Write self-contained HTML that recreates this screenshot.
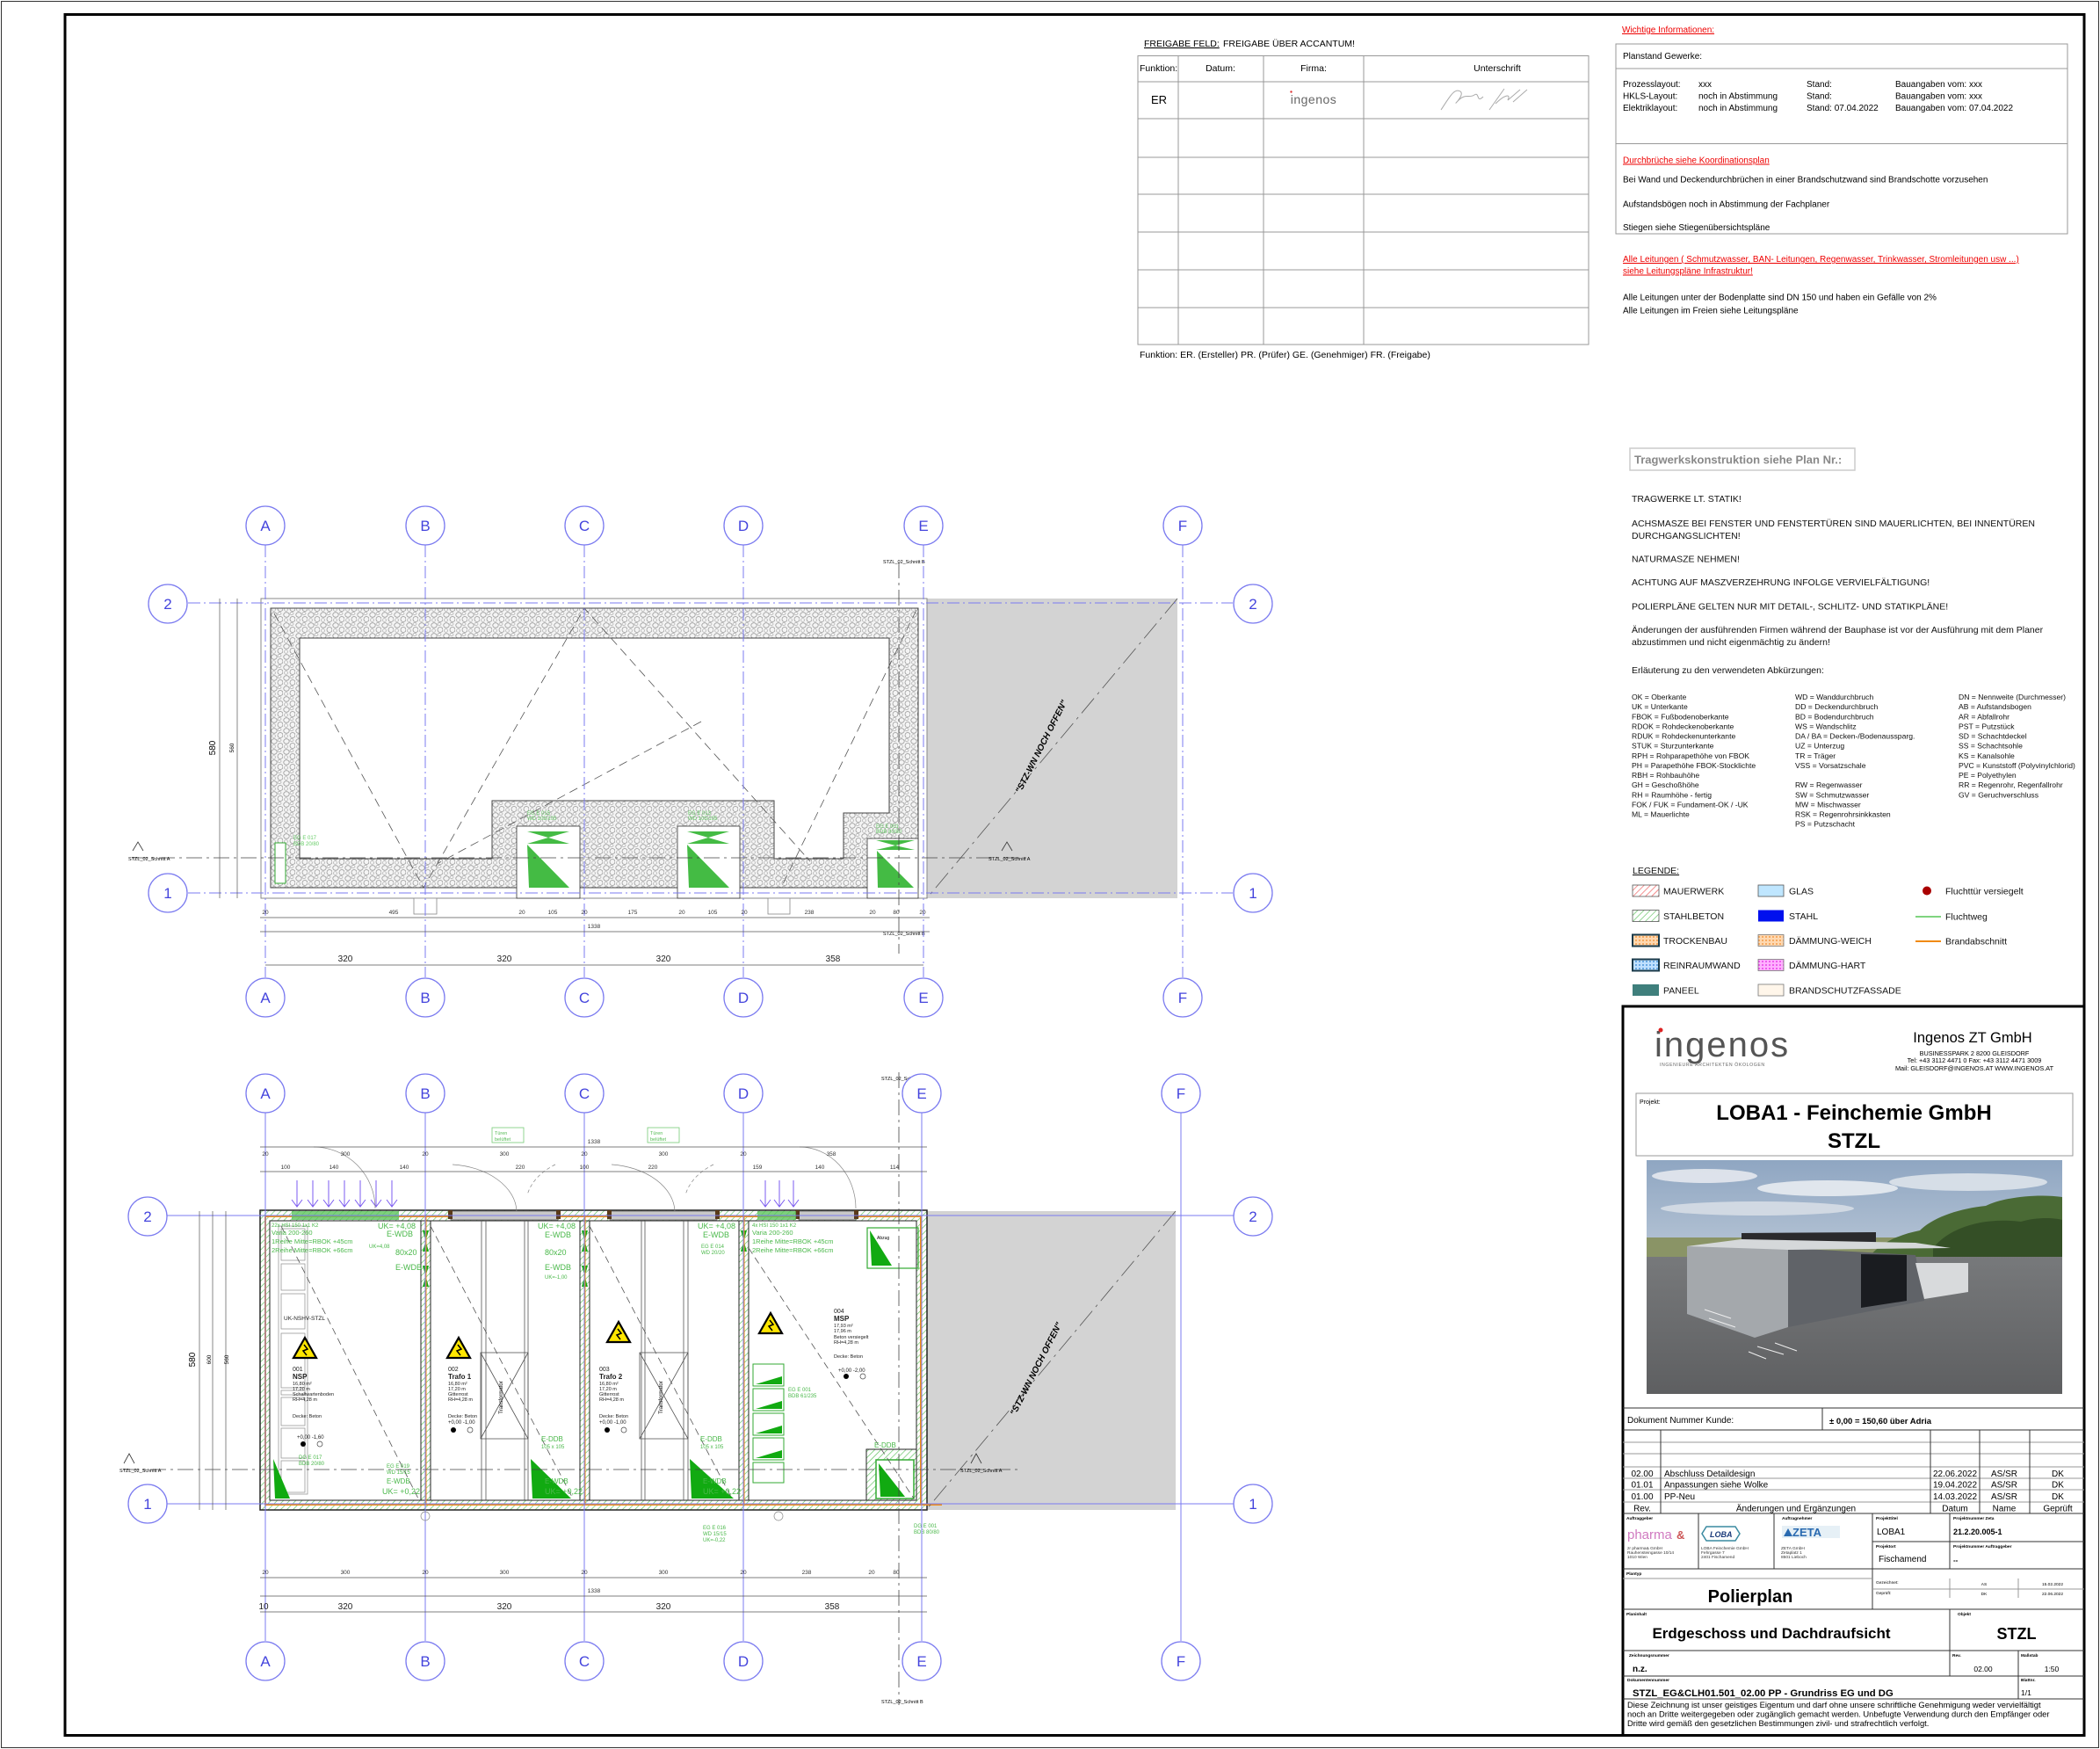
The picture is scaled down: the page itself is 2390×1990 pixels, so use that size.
<!DOCTYPE html>
<html><head><meta charset="utf-8">
<style>
html,body{margin:0;padding:0;background:#fff;}
svg{display:block;font-family:"Liberation Sans",sans-serif;}
</style></head>
<body>
<svg width="2390" height="1990" viewBox="0 0 2390 1990" xmlns="http://www.w3.org/2000/svg">
<defs>
<pattern id="mas" width="14" height="12" patternUnits="userSpaceOnUse">
<rect width="14" height="12" fill="#f4f4f4"/>
<ellipse cx="4" cy="3.5" rx="3.2" ry="2.8" fill="none" stroke="#9a9a9a" stroke-width="0.8"/>
<ellipse cx="11" cy="8.5" rx="3" ry="3" fill="none" stroke="#9a9a9a" stroke-width="0.8"/>
<ellipse cx="3.5" cy="9.5" rx="2" ry="1.8" fill="none" stroke="#aaa" stroke-width="0.7"/>
<ellipse cx="10" cy="2" rx="2" ry="1.6" fill="none" stroke="#aaa" stroke-width="0.7"/>
</pattern>
<pattern id="hatchG" width="5" height="5" patternUnits="userSpaceOnUse" patternTransform="rotate(45)">
<rect width="5" height="5" fill="#fff"/><line x1="0" y1="0" x2="0" y2="5" stroke="#5cbf5c" stroke-width="1.3"/>
</pattern>
<pattern id="hatchR" width="5" height="5" patternUnits="userSpaceOnUse" patternTransform="rotate(45)">
<rect width="5" height="5" fill="#fff"/><line x1="0" y1="0" x2="0" y2="5" stroke="#e55" stroke-width="1.3"/>
</pattern>
<pattern id="dotO" width="4" height="4" patternUnits="userSpaceOnUse">
<rect width="4" height="4" fill="#ffd8b0"/><circle cx="2" cy="2" r="0.9" fill="#f08a2a"/>
</pattern>
<pattern id="dotM" width="4" height="4" patternUnits="userSpaceOnUse">
<rect width="4" height="4" fill="#ffb0ff"/><circle cx="2" cy="2" r="0.9" fill="#e020e0"/>
</pattern>
<pattern id="dotB" width="4" height="4" patternUnits="userSpaceOnUse">
<rect width="4" height="4" fill="#bfe0ff"/><circle cx="2" cy="2" r="0.9" fill="#2a7fd0"/>
</pattern>
<linearGradient id="sky" x1="0" y1="0" x2="0" y2="1">
<stop offset="0" stop-color="#8fa6c2"/><stop offset="0.6" stop-color="#c9d3de"/><stop offset="1" stop-color="#e2e6ea"/>
</linearGradient>
<linearGradient id="ground" x1="0" y1="0" x2="0" y2="1">
<stop offset="0" stop-color="#77797b"/><stop offset="1" stop-color="#5e5f61"/>
</linearGradient>
<g id="warn"><path d="M0,-14 L13,9 L-13,9 Z" fill="#ffe600" stroke="#000" stroke-width="2.2"/><path d="M-1,-6 L3,-1 L-2,1 L2,6" fill="none" stroke="#000" stroke-width="1.5"/></g>
</defs>

<!-- frames -->
<rect x="1.5" y="1.5" width="2387" height="1987" fill="none" stroke="#333" stroke-width="1"/>
<rect x="74" y="16.5" width="2298" height="1958" fill="none" stroke="#000" stroke-width="3"/>

<!-- ============ FREIGABE TABLE ============ -->
<g font-size="10.5" fill="#000">
<text x="1302" y="53" text-decoration="underline">FREIGABE FELD:</text>
<text x="1392" y="53">FREIGABE ÜBER ACCANTUM!</text>
<g stroke="#999" stroke-width="1" fill="none">
<rect x="1295" y="63.5" width="513" height="328.5"/>
<line x1="1295" y1="93" x2="1808" y2="93"/>
<line x1="1295" y1="135" x2="1808" y2="135"/>
<line x1="1295" y1="179" x2="1808" y2="179"/>
<line x1="1295" y1="221" x2="1808" y2="221"/>
<line x1="1295" y1="264" x2="1808" y2="264"/>
<line x1="1295" y1="307" x2="1808" y2="307"/>
<line x1="1295" y1="350" x2="1808" y2="350"/>
<line x1="1341" y1="63.5" x2="1341" y2="392"/>
<line x1="1438" y1="63.5" x2="1438" y2="392"/>
<line x1="1552" y1="63.5" x2="1552" y2="392"/>
</g>
<text x="1297" y="81">Funktion:</text>
<text x="1389" y="81" text-anchor="middle">Datum:</text>
<text x="1495" y="81" text-anchor="middle">Firma:</text>
<text x="1704" y="81" text-anchor="middle">Unterschrift</text>
<text x="1310" y="118" font-size="13">ER</text>
<text x="1495" y="118" font-size="14" fill="#666" text-anchor="middle" letter-spacing="0.5">ingenos</text>
<circle cx="1469.5" cy="104.5" r="1.2" fill="#d33"/>
<path d="M1640,125 C1650,110 1655,100 1662,104 C1668,108 1650,124 1660,114 C1668,106 1672,112 1678,108 C1684,104 1680,118 1688,110 M1695,125 L1712,101 M1702,118 C1712,108 1720,106 1716,114 L1730,102 M1722,116 L1738,102" fill="none" stroke="#aaa" stroke-width="1"/>
<text x="1297" y="407">Funktion: ER. (Ersteller) PR. (Prüfer) GE. (Genehmiger) FR. (Freigabe)</text>
</g>

<!-- ============ WICHTIGE INFO ============ -->
<g font-size="10" fill="#000">
<text x="1846" y="37" fill="#e00" text-decoration="underline">Wichtige Informationen:</text>
<g stroke="#999" fill="none"><rect x="1839" y="50" width="514" height="216"/><line x1="1839" y1="78" x2="2353" y2="78"/><line x1="1839" y1="163.5" x2="2353" y2="163.5"/></g>
<text x="1847" y="67">Planstand Gewerke:</text>
<text x="1847" y="99">Prozesslayout:</text><text x="1933" y="99">xxx</text><text x="2056" y="99">Stand:</text><text x="2157" y="99">Bauangaben vom: xxx</text>
<text x="1847" y="112.5">HKLS-Layout:</text><text x="1933" y="112.5">noch in Abstimmung</text><text x="2056" y="112.5">Stand:</text><text x="2157" y="112.5">Bauangaben vom: xxx</text>
<text x="1847" y="126">Elektriklayout:</text><text x="1933" y="126">noch in Abstimmung</text><text x="2056" y="126">Stand: 07.04.2022</text><text x="2157" y="126">Bauangaben vom: 07.04.2022</text>
<text x="1847" y="185.5" fill="#e00" text-decoration="underline">Durchbrüche siehe Koordinationsplan</text>
<text x="1847" y="207.5">Bei Wand und Deckendurchbrüchen in einer Brandschutzwand sind Brandschotte vorzusehen</text>
<text x="1847" y="235.5">Aufstandsbögen noch in Abstimmung der Fachplaner</text>
<text x="1847" y="262">Stiegen siehe Stiegenübersichtspläne</text>
<text x="1847" y="298" fill="#e00" text-decoration="underline">Alle Leitungen ( Schmutzwasser, BAN- Leitungen, Regenwasser, Trinkwasser, Stromleitungen usw ...)</text>
<text x="1847" y="311.5" fill="#e00" text-decoration="underline">siehe Leitungspläne Infrastruktur!</text>
<text x="1847" y="341.5">Alle Leitungen unter der Bodenplatte sind DN 150 und haben ein Gefälle von 2%</text>
<text x="1847" y="356.5">Alle Leitungen im Freien siehe Leitungspläne</text>
</g>

<!-- ============ TRAGWERK NOTES ============ -->
<rect x="1855" y="510" width="256" height="25" fill="none" stroke="#ccc" stroke-width="1.5"/>
<text x="1860" y="527.5" font-size="13" font-weight="bold" fill="#888">Tragwerkskonstruktion siehe Plan Nr.:</text>
<g font-size="10.5" fill="#111">
<text x="1857" y="571">TRAGWERKE LT. STATIK!</text>
<text x="1857" y="599">ACHSMASZE BEI FENSTER UND FENSTERTÜREN SIND MAUERLICHTEN, BEI INNENTÜREN</text>
<text x="1857" y="613">DURCHGANGSLICHTEN!</text>
<text x="1857" y="639.5">NATURMASZE NEHMEN!</text>
<text x="1857" y="666">ACHTUNG AUF MASZVERZEHRUNG INFOLGE VERVIELFÄLTIGUNG!</text>
<text x="1857" y="693.5">POLIERPLÄNE GELTEN NUR MIT DETAIL-, SCHLITZ- UND STATIKPLÄNE!</text>
<text x="1857" y="720">Änderungen der ausführenden Firmen während der Bauphase ist vor der Ausführung mit dem Planer</text>
<text x="1857" y="734">abzustimmen und nicht eigenmächtig zu ändern!</text>
<text x="1857" y="766">Erläuterung zu den verwendeten Abkürzungen:</text>
</g>
<g font-size="8.6" fill="#111">
<text x="1857" y="796">OK = Oberkante</text><text x="1857" y="807">UK = Unterkante</text><text x="1857" y="818.5">FBOK = Fußbodenoberkante</text><text x="1857" y="829.5">RDOK = Rohdeckenoberkante</text><text x="1857" y="840.5">RDUK = Rohdeckenunterkante</text><text x="1857" y="851.5">STUK = Sturzunterkante</text><text x="1857" y="863">RPH = Rohparapethöhe von FBOK</text><text x="1857" y="874">PH = Parapethöhe FBOK-Stocklichte</text><text x="1857" y="885">RBH = Rohbauhöhe</text><text x="1857" y="896">GH = Geschoßhöhe</text><text x="1857" y="907.5">RH = Raumhöhe - fertig</text><text x="1857" y="918.5">FOK / FUK = Fundament-OK / -UK</text><text x="1857" y="929.5">ML = Mauerlichte</text>
<text x="2043" y="796">WD = Wanddurchbruch</text><text x="2043" y="807">DD = Deckendurchbruch</text><text x="2043" y="818.5">BD = Bodendurchbruch</text><text x="2043" y="829.5">WS = Wandschlitz</text><text x="2043" y="840.5">DA / BA = Decken-/Bodenaussparg.</text><text x="2043" y="851.5">UZ = Unterzug</text><text x="2043" y="863">TR = Träger</text><text x="2043" y="874">VSS = Vorsatzschale</text><text x="2043" y="896">RW = Regenwasser</text><text x="2043" y="907.5">SW = Schmutzwasser</text><text x="2043" y="918.5">MW = Mischwasser</text><text x="2043" y="929.5">RSK = Regenrohrsinkkasten</text><text x="2043" y="940.5">PS = Putzschacht</text>
<text x="2229" y="796">DN = Nennweite (Durchmesser)</text><text x="2229" y="807">AB = Aufstandsbogen</text><text x="2229" y="818.5">AR = Abfallrohr</text><text x="2229" y="829.5">PST = Putzstück</text><text x="2229" y="840.5">SD = Schachtdeckel</text><text x="2229" y="851.5">SS = Schachtsohle</text><text x="2229" y="863">KS = Kanalsohle</text><text x="2229" y="874">PVC = Kunststoff (Polyvinylchlorid)</text><text x="2229" y="885">PE = Polyethylen</text><text x="2229" y="896">RR = Regenrohr, Regenfallrohr</text><text x="2229" y="907.5">GV = Geruchverschluss</text>
</g>
<!-- LEGENDE -->
<g font-size="10.5" fill="#111">
<text x="1858" y="994" text-decoration="underline">LEGENDE:</text>
<rect x="1858" y="1007" width="30" height="13" fill="url(#hatchR)" stroke="#555" stroke-width="0.8"/><text x="1893" y="1017.5">MAUERWERK</text>
<rect x="1858" y="1035.5" width="30" height="13" fill="url(#hatchG)" stroke="#555" stroke-width="0.8"/><text x="1893" y="1046">STAHLBETON</text>
<rect x="1858" y="1063.5" width="30" height="13" fill="url(#dotO)" stroke="#1a3a4a" stroke-width="2"/><text x="1893" y="1074">TROCKENBAU</text>
<rect x="1858" y="1091.5" width="30" height="13" fill="url(#dotB)" stroke="#1a3a4a" stroke-width="2"/><text x="1893" y="1102">REINRAUMWAND</text>
<rect x="1858" y="1120" width="30" height="13" fill="#3f7f7c"/><text x="1893" y="1130.5">PANEEL</text>
<rect x="2001" y="1007" width="29" height="13" fill="#bfe6ff" stroke="#555" stroke-width="0.8"/><text x="2036" y="1017.5">GLAS</text>
<rect x="2001" y="1035.5" width="29" height="13" fill="#0010ee"/><text x="2036" y="1046">STAHL</text>
<rect x="2001" y="1063.5" width="29" height="13" fill="url(#dotO)" stroke="#777" stroke-width="0.8"/><text x="2036" y="1074">DÄMMUNG-WEICH</text>
<rect x="2001" y="1091.5" width="29" height="13" fill="url(#dotM)" stroke="#777" stroke-width="0.8"/><text x="2036" y="1102">DÄMMUNG-HART</text>
<rect x="2001" y="1120" width="29" height="13" fill="#fff6ea" stroke="#777" stroke-width="0.8"/><text x="2036" y="1130.5">BRANDSCHUTZFASSADE</text>
<circle cx="2193" cy="1013.5" r="5" fill="#a00"/><text x="2214" y="1017.5">Fluchttür versiegelt</text>
<line x1="2180" y1="1043" x2="2209" y2="1043" stroke="#33bb33" stroke-width="1.2"/><text x="2214" y="1046.5">Fluchtweg</text>
<line x1="2180" y1="1071" x2="2209" y2="1071" stroke="#f08a10" stroke-width="2"/><text x="2214" y="1074.5">Brandabschnitt</text>
</g>

<!-- ============ TITLE BLOCK ============ -->
<path d="M1847,1975 L1847,1145 L2372,1145" fill="none" stroke="#000" stroke-width="3"/>
<text x="1883" y="1202" font-size="40" fill="#555" letter-spacing="2">ingenos</text>
<circle cx="1890" cy="1172" r="2.5" fill="#d22"/>
<text x="1889" y="1213" font-size="5.2" fill="#666" letter-spacing="0.6">INGENIEURE  ARCHITEKTEN  ÖKOLOGEN</text>
<text x="2245" y="1186" font-size="16.5" text-anchor="middle">Ingenos ZT GmbH</text>
<g font-size="7.3" text-anchor="middle"><text x="2247" y="1201">BUSINESSPARK 2    8200 GLEISDORF</text><text x="2247" y="1209">Tel: +43 3112 4471 0   Fax: +43 3112 4471 3009</text><text x="2247" y="1218">Mail: GLEISDORF@INGENOS.AT   WWW.INGENOS.AT</text></g>
<rect x="1862" y="1244" width="497" height="71" fill="none" stroke="#999"/>
<text x="1866" y="1256" font-size="7">Projekt:</text>
<text x="2110" y="1274" font-size="24" font-weight="bold" text-anchor="middle">LOBA1 - Feinchemie GmbH</text>
<text x="2110" y="1306" font-size="24" font-weight="bold" text-anchor="middle">STZL</text>
<!-- photo -->
<rect x="1874" y="1320" width="473" height="266" fill="url(#sky)"/>
<ellipse cx="1940" cy="1338" rx="60" ry="8" fill="#e4e8ee" opacity="0.9"/>
<ellipse cx="2080" cy="1352" rx="80" ry="9" fill="#e8ecf1" opacity="0.9"/>
<ellipse cx="2240" cy="1345" rx="90" ry="10" fill="#dde3ea" opacity="0.9"/>
<ellipse cx="2000" cy="1375" rx="110" ry="8" fill="#d6dde5" opacity="0.9"/>
<rect x="1874" y="1408" width="473" height="22" fill="#8a9466"/>
<path d="M2120,1440 C2135,1415 2160,1405 2185,1400 C2200,1385 2230,1375 2260,1372 C2280,1362 2320,1358 2347,1362 L2347,1460 L2120,1460 Z" fill="#4a6a35"/>
<path d="M2200,1420 C2220,1395 2260,1385 2300,1390 C2320,1384 2340,1386 2347,1388 L2347,1450 L2200,1450 Z" fill="#344f26"/>
<rect x="1874" y="1430" width="473" height="156" fill="url(#ground)"/>
<path d="M1920,1418 L2035,1420 L2035,1510 L1997,1522 L1920,1495 Z" fill="#a4a8ac"/>
<path d="M2035,1420 L2180,1428 L2190,1480 L2035,1510 Z" fill="#606368"/>
<path d="M1982,1403 L2135,1402 L2135,1420 L1982,1418 Z" fill="#2a2a2c"/>
<path d="M1920,1418 L1982,1410 L2180,1414 L2220,1420 L2035,1422 Z" fill="#d5d8da"/>
<path d="M2118,1427 L2170,1428 L2170,1480 L2118,1488 Z" fill="#1a1c20"/>
<path d="M2180,1437 L2240,1437 L2240,1470 L2190,1478 Z" fill="#d8dadc"/>
<g stroke="#eee" stroke-width="1"><line x1="1990" y1="1538" x2="2010" y2="1546"/><line x1="2000" y1="1532" x2="2030" y2="1541"/><line x1="2020" y1="1528" x2="2045" y2="1537"/><line x1="1940" y1="1490" x2="1970" y2="1500"/><line x1="1945" y1="1500" x2="1975" y2="1510"/></g>
<!-- doc number row -->
<g stroke="#333" stroke-width="1" fill="none">
<line x1="1847" y1="1602" x2="2372" y2="1602"/><line x1="1847" y1="1627" x2="2372" y2="1627"/><line x1="2074" y1="1602" x2="2074" y2="1627"/>
<line x1="1847" y1="1641" x2="2372" y2="1641" stroke="#999"/><line x1="1847" y1="1654" x2="2372" y2="1654" stroke="#999"/><line x1="1847" y1="1669" x2="2372" y2="1669" stroke="#999"/><line x1="1847" y1="1682" x2="2372" y2="1682" stroke="#999"/><line x1="1847" y1="1695" x2="2372" y2="1695" stroke="#999"/><line x1="1847" y1="1709" x2="2372" y2="1709" stroke="#999"/>
<line x1="1847" y1="1722" x2="2372" y2="1722"/>
<line x1="1890" y1="1627" x2="1890" y2="1722"/><line x1="2197" y1="1627" x2="2197" y2="1722"/><line x1="2253" y1="1627" x2="2253" y2="1722"/><line x1="2310" y1="1627" x2="2310" y2="1722"/>
<line x1="1933" y1="1722" x2="1933" y2="1785"/><line x1="2019" y1="1722" x2="2019" y2="1785"/><line x1="2131" y1="1722" x2="2131" y2="1831"/><line x1="2219" y1="1722" x2="2219" y2="1785"/>
<line x1="2131" y1="1754" x2="2372" y2="1754"/>
<line x1="1847" y1="1785" x2="2372" y2="1785"/>
<line x1="1847" y1="1796" x2="2131" y2="1796" stroke="#999"/>
<line x1="2131" y1="1808" x2="2372" y2="1808" stroke="#999"/><line x1="2219" y1="1796" x2="2219" y2="1818" stroke="#999"/><line x1="2297" y1="1796" x2="2297" y2="1818" stroke="#999"/>
<line x1="1847" y1="1831" x2="2372" y2="1831"/>
<line x1="2219" y1="1831" x2="2219" y2="1907"/>
<line x1="1847" y1="1878" x2="2372" y2="1878"/>
<line x1="2297" y1="1878" x2="2297" y2="1933"/>
<line x1="1847" y1="1907" x2="2372" y2="1907"/>
<line x1="1847" y1="1933" x2="2372" y2="1933"/>
</g>
<text x="1852" y="1619" font-size="10">Dokument Nummer Kunde:</text>
<text x="2082" y="1620" font-size="9.5" font-weight="bold">± 0,00 = 150,60 über Adria</text>
<g font-size="10">
<text x="1869" y="1680" text-anchor="middle">02.00</text><text x="1894" y="1680">Abschluss Detaildesign</text><text x="2225" y="1680" text-anchor="middle">22.06.2022</text><text x="2281" y="1680" text-anchor="middle">AS/SR</text><text x="2342" y="1680" text-anchor="middle">DK</text>
<text x="1869" y="1692.5" text-anchor="middle">01.01</text><text x="1894" y="1692.5">Anpassungen siehe Wolke</text><text x="2225" y="1692.5" text-anchor="middle">19.04.2022</text><text x="2281" y="1692.5" text-anchor="middle">AS/SR</text><text x="2342" y="1692.5" text-anchor="middle">DK</text>
<text x="1869" y="1706" text-anchor="middle">01.00</text><text x="1894" y="1706">PP-Neu</text><text x="2225" y="1706" text-anchor="middle">14.03.2022</text><text x="2281" y="1706" text-anchor="middle">AS/SR</text><text x="2342" y="1706" text-anchor="middle">DK</text>
<text x="1869" y="1719.5" text-anchor="middle">Rev.</text><text x="2044" y="1719.5" text-anchor="middle">Änderungen und Ergänzungen</text><text x="2225" y="1719.5" text-anchor="middle">Datum</text><text x="2281" y="1719.5" text-anchor="middle">Name</text><text x="2342" y="1719.5" text-anchor="middle">Geprüft</text>
</g>
<g font-size="4.8" font-weight="bold"><text x="1851" y="1729">Auftraggeber</text><text x="2028" y="1729">Auftragnehmer</text><text x="2135" y="1729">Projekttitel</text><text x="2223" y="1729">Projektnummer Zeta</text><text x="2135" y="1761">Projektort</text><text x="2223" y="1761">Projektnummer Auftraggeber</text><text x="1851" y="1792">Plantyp</text><text x="1851" y="1838">Planinhalt</text><text x="2228" y="1838">Objekt</text><text x="1854" y="1885">Zeichnungsnummer</text><text x="2222" y="1885">Rev.</text><text x="2300" y="1885">Maßstab</text><text x="1852" y="1913">Dokumentennummer</text><text x="2300" y="1913">Blattnr.</text></g>
<text x="1852" y="1751" font-size="15" fill="#d07ac0">pharma</text><text x="1908" y="1751" font-size="13" font-weight="bold" fill="#c55">&amp;</text>
<g font-size="4.8" fill="#333"><text x="1852" y="1763">zr pharma&amp; GmbH</text><text x="1852" y="1768">Rauhensteingasse 10/14</text><text x="1852" y="1773">1010 Wien</text><text x="1936" y="1763">LOBA Feinchemie GmbH</text><text x="1936" y="1768">Fehrgasse 7</text><text x="1936" y="1773">2401 Fischamend</text><text x="2027" y="1763">ZETA GmbH</text><text x="2027" y="1768">Zetaplatz 1</text><text x="2027" y="1773">8501 Lieboch</text></g>
<path d="M1937,1745 L1942,1737 L1975,1737 L1980,1745 L1975,1753 L1942,1753 Z" fill="none" stroke="#3a8aa0" stroke-width="1.5"/>
<text x="1946" y="1749" font-size="9" font-weight="bold" font-style="italic" fill="#1a3a7a">LOBA</text>
<rect x="2028" y="1736" width="66" height="14" fill="#e6f0f6"/>
<text x="2040" y="1748" font-size="13" font-weight="bold" fill="#2a6ab0">ZETA</text>
<path d="M2030,1748 L2035,1739 L2040,1748 Z" fill="#2a6ab0"/>
<text x="2136" y="1746" font-size="10">LOBA1</text>
<text x="2223" y="1746" font-size="9" font-weight="bold">21.2.20.005-1</text>
<text x="2138" y="1777" font-size="10">Fischamend</text>
<text x="2223" y="1778" font-size="8" font-weight="bold">--</text>
<text x="1992" y="1823" font-size="20" font-weight="bold" text-anchor="middle">Polierplan</text>
<g font-size="4.8"><text x="2135" y="1802">Gezeichnet:</text><text x="2135" y="1814">Geprüft:</text><text x="2258" y="1804" text-anchor="middle">AS</text><text x="2258" y="1815" text-anchor="middle">DK</text><text x="2336" y="1804" text-anchor="middle">15.02.2022</text><text x="2336" y="1815" text-anchor="middle">22.06.2022</text></g>
<text x="2016" y="1864" font-size="17" font-weight="bold" text-anchor="middle">Erdgeschoss und Dachdraufsicht</text>
<text x="2295" y="1865" font-size="18" font-weight="bold" text-anchor="middle">STZL</text>
<text x="1858" y="1902" font-size="10" font-weight="bold">n.z.</text>
<text x="2257" y="1902" font-size="8.5" text-anchor="middle">02.00</text>
<text x="2335" y="1902" font-size="8.5" text-anchor="middle">1:50</text>
<text x="1858" y="1930" font-size="11.3" font-weight="bold">STZL_EG&amp;CLH01.501_02.00 PP - Grundriss EG und DG</text>
<text x="2300" y="1929" font-size="8.5">1/1</text>
<g font-size="9.4"><text x="1852" y="1943">Diese Zeichnung ist unser geistiges Eigentum und darf ohne unsere schriftliche Genehmigung weder vervielfältigt</text><text x="1852" y="1953.5">noch an Dritte weitergegeben oder zugänglich gemacht werden. Unbefugte Verwendung durch den Empfänger oder</text><text x="1852" y="1964">Dritte wird gemäß den gesetzlichen Bestimmungen zivil- und strafrechtlich verfolgt.</text></g>

<!-- ============ TOP PLAN ============ -->
<rect x="1055" y="681" width="285" height="341" fill="#d3d3d3"/>
<rect x="297" y="681" width="758" height="341" fill="#fff" stroke="#888" stroke-width="1"/>
<path fill-rule="evenodd" d="M308,692 L1045,692 L1045,1010 L308,1010 Z M341,726 L1012,726 L1012,925 L960,925 L960,977 L881,977 L881,911 L560,911 L560,977 L341,977 Z" fill="url(#mas)" stroke="#444" stroke-width="1"/>
<g stroke="#333" stroke-width="0.8">
<rect x="588" y="940" width="72" height="82" fill="#fff"/>
<rect x="771" y="940" width="71" height="82" fill="#fff"/>
<rect x="987" y="954" width="58" height="68" fill="#fff"/>
</g>
<g fill="#44bb44">
<path d="M600,946 L648,946 L624,953 Z M600,960 L648,960 L624,953 Z"/><path d="M600,961 L602,1010 L648,1010 Z"/>
<path d="M782,946 L830,946 L806,953 Z M782,960 L830,960 L806,953 Z"/><path d="M782,961 L784,1010 L830,1010 Z"/>
<path d="M997,956 L1041,956 L1019,962 Z M997,967 L1041,967 L1019,962 Z"/><path d="M998,968 L999,1010 L1040,1010 Z"/>
</g>
<rect x="313" y="959" width="12" height="46" fill="#fff" stroke="#3a3" stroke-width="1"/>
<rect x="471" y="1022" width="26" height="18" fill="#fff" stroke="#888" stroke-width="0.8"/>
<rect x="874" y="1022" width="25" height="18" fill="#fff" stroke="#888" stroke-width="0.8"/>
<g font-size="6" fill="#6c6"><text x="600" y="927">EG E 015</text><text x="600" y="933">WD 105/105</text><text x="783" y="927">EG E 013</text><text x="783" y="933">WD 105/105</text><text x="997" y="942">EG E 001</text><text x="997" y="948">BDB 80/80</text><text x="334" y="955">EG E 017</text><text x="334" y="962">BDB 20/80</text></g>
<g stroke="#555" stroke-width="0.8" stroke-dasharray="10,6" fill="none">
<path d="M312,698 L482,1010 L665,692 L922,980"/><path d="M798,821 L499,982"/><path d="M1043,694 L889,1010"/>
</g>
<line x1="1340" y1="681" x2="1055" y2="1022" stroke="#555" stroke-width="0.8" stroke-dasharray="22,6,3,6"/>
<text transform="translate(1188,851) rotate(-63)" font-size="10" font-weight="bold" font-style="italic" text-anchor="middle">"STZ-WN NOCH OFFEN"</text>
<line x1="150" y1="976" x2="1170" y2="976" stroke="#444" stroke-width="0.8" stroke-dasharray="18,5,3,5"/>
<line x1="1023" y1="640" x2="1023" y2="1085" stroke="#444" stroke-width="0.8" stroke-dasharray="18,5,3,5"/>
<path d="M151,968 L157,958 L163,968" fill="none" stroke="#333" stroke-width="0.8"/><path d="M1140,968 L1146,958 L1152,968" fill="none" stroke="#333" stroke-width="0.8"/>
<g font-size="5.5"><text x="146" y="979">STZL_02_Schnitt A</text><text x="1125" y="979">STZL_02_Schnitt A</text><text x="1005" y="641">STZL_02_Schnitt B</text><text x="1005" y="1064">STZL_02_Schnitt B</text></g>
<!-- grid top -->
<g stroke="#7b7bf0" stroke-width="1" stroke-dasharray="14,4,2,4" fill="none">
<line x1="302" y1="620" x2="302" y2="1112"/><line x1="484" y1="620" x2="484" y2="1112"/><line x1="665" y1="620" x2="665" y2="1112"/><line x1="846" y1="620" x2="846" y2="1112"/><line x1="1051" y1="620" x2="1051" y2="1112"/><line x1="1346" y1="620" x2="1346" y2="1112"/>
<line x1="214" y1="686" x2="1403" y2="686"/><line x1="214" y1="1016" x2="1403" y2="1016"/>
</g>
<g stroke="#7b7bf0" stroke-width="1.3" fill="#fff">
<circle cx="302" cy="598" r="22"/><circle cx="484" cy="598" r="22"/><circle cx="665" cy="598" r="22"/><circle cx="846" cy="598" r="22"/><circle cx="1051" cy="598" r="22"/><circle cx="1346" cy="598" r="22"/>
<circle cx="302" cy="1135" r="22"/><circle cx="484" cy="1135" r="22"/><circle cx="665" cy="1135" r="22"/><circle cx="846" cy="1135" r="22"/><circle cx="1051" cy="1135" r="22"/><circle cx="1346" cy="1135" r="22"/>
<circle cx="191" cy="687" r="22"/><circle cx="191" cy="1016" r="22"/><circle cx="1426" cy="687" r="22"/><circle cx="1426" cy="1016" r="22"/>
</g>
<g font-size="17" fill="#4444dd" text-anchor="middle">
<text x="302" y="604">A</text><text x="484" y="604">B</text><text x="665" y="604">C</text><text x="846" y="604">D</text><text x="1051" y="604">E</text><text x="1346" y="604">F</text>
<text x="302" y="1141">A</text><text x="484" y="1141">B</text><text x="665" y="1141">C</text><text x="846" y="1141">D</text><text x="1051" y="1141">E</text><text x="1346" y="1141">F</text>
<text x="191" y="693">2</text><text x="191" y="1022">1</text><text x="1426" y="693">2</text><text x="1426" y="1022">1</text>
</g>
<!-- dims top -->
<g stroke="#555" stroke-width="0.7">
<line x1="296" y1="1044" x2="1058" y2="1044"/><line x1="296" y1="1060" x2="1058" y2="1060"/><line x1="302" y1="1098" x2="1051" y2="1098"/>
<line x1="250" y1="681" x2="250" y2="1022"/><line x1="270" y1="681" x2="270" y2="1022"/>
</g>
<g font-size="6.5" fill="#333" text-anchor="middle"><text x="302" y="1040">20</text><text x="448" y="1040">495</text><text x="594" y="1040">20</text><text x="629" y="1040">105</text><text x="665" y="1040">20</text><text x="720" y="1040">175</text><text x="776" y="1040">20</text><text x="811" y="1040">105</text><text x="847" y="1040">20</text><text x="921" y="1040">238</text><text x="993" y="1040">20</text><text x="1020" y="1040">80</text><text x="1050" y="1040">20</text><text x="676" y="1056">1338</text></g>
<g font-size="10" fill="#222" text-anchor="middle"><text x="393" y="1094">320</text><text x="574" y="1094">320</text><text x="755" y="1094">320</text><text x="948" y="1094">358</text></g>
<text transform="translate(245,851) rotate(-90)" font-size="10" text-anchor="middle">580</text>
<text transform="translate(266,851) rotate(-90)" font-size="6.5" text-anchor="middle">560</text>

<!-- ============ BOTTOM PLAN ============ -->
<rect x="1054" y="1378" width="284" height="340" fill="#d3d3d3"/>
<rect x="296" y="1377" width="759" height="341" fill="url(#hatchG)" stroke="#222" stroke-width="1.5"/>
<rect x="307" y="1389" width="736" height="318" fill="#fff" stroke="#222" stroke-width="1"/>
<path d="M986,1707 L986,1649 L1043,1649 L1043,1707 Z" fill="url(#hatchG)" stroke="#222" stroke-width="1"/>
<g fill="url(#hatchG)" stroke="#222" stroke-width="1">
<rect x="479" y="1389" width="11" height="318"/><rect x="660" y="1389" width="11" height="318"/><rect x="841" y="1389" width="11" height="318"/>
</g>
<g fill="#1a1" >
<path d="M481,1400 L488,1400 L484.5,1412 Z M481,1424 L488,1424 L484.5,1412 Z"/><path d="M662,1400 L669,1400 L665.5,1412 Z M662,1424 L669,1424 L665.5,1412 Z"/><path d="M843,1400 L850,1400 L846.5,1412 Z M843,1424 L850,1424 L846.5,1412 Z"/>
<path d="M662,1440 L669,1440 L665.5,1452 Z M662,1464 L669,1464 L665.5,1452 Z"/><path d="M481,1440 L488,1440 L484.5,1452 Z M481,1464 L488,1464 L484.5,1452 Z"/>
</g>
<!-- orange brand lines -->
<g stroke="#f0901a" stroke-width="2" fill="none">
<rect x="302" y="1384" width="746" height="328"/>
<line x1="484.5" y1="1384" x2="484.5" y2="1712"/><line x1="665.5" y1="1384" x2="665.5" y2="1712"/><line x1="846.5" y1="1384" x2="846.5" y2="1712"/>
<line x1="1048" y1="1712" x2="1072" y2="1712"/>
</g>
<!-- top wall openings -->
<g fill="#c8c8c8" stroke="#555" stroke-width="0.7">
<rect x="513" y="1378" width="122" height="10"/><rect x="694" y="1378" width="122" height="10"/><rect x="909" y="1378" width="65" height="10"/>
</g>
<g fill="#5a3a1a"><rect x="510" y="1377" width="5" height="10"/><rect x="633" y="1377" width="5" height="10"/><rect x="691" y="1377" width="5" height="10"/><rect x="814" y="1377" width="5" height="10"/><rect x="905" y="1377" width="5" height="10"/><rect x="972" y="1377" width="5" height="10"/></g>
<rect x="332" y="1378" width="122" height="10" fill="#5cc45c" opacity="0.8"/>
<rect x="862" y="1378" width="44" height="10" fill="#5cc45c" opacity="0.8"/>
<!-- purple arrows -->
<g stroke="#7b5bf0" stroke-width="1" fill="none">
<path d="M338,1343 L338,1373 M332,1365 L338,1373 L344,1365"/><path d="M356,1343 L356,1373 M350,1365 L356,1373 L362,1365"/><path d="M374,1343 L374,1373 M368,1365 L374,1373 L380,1365"/><path d="M392,1343 L392,1373 M386,1365 L392,1373 L398,1365"/><path d="M410,1343 L410,1373 M404,1365 L410,1373 L416,1365"/><path d="M428,1343 L428,1373 M422,1365 L428,1373 L434,1365"/><path d="M446,1343 L446,1373 M440,1365 L446,1373 L452,1365"/>
<path d="M871,1343 L871,1373 M865,1365 L871,1373 L877,1365"/><path d="M887,1343 L887,1373 M881,1365 L887,1373 L893,1365"/><path d="M903,1343 L903,1373 M897,1365 L903,1373 L909,1365"/>
</g>
<!-- door arcs -->
<g stroke="#888" stroke-width="0.7" fill="none">
<path d="M357,1305 A70,70 0 0 1 427,1375"/><path d="M515,1325 A80,55 0 0 1 588,1378"/><path d="M632,1325 A80,55 0 0 0 600,1360" stroke-dasharray="4,3"/>
<path d="M696,1325 A80,55 0 0 1 768,1378"/><path d="M812,1325 A80,55 0 0 0 780,1360" stroke-dasharray="4,3"/>
<path d="M910,1305 A64,70 0 0 1 974,1375"/>
</g>
<rect x="560" y="1283" width="36" height="17" fill="none" stroke="#7c7" stroke-width="0.8"/><rect x="737" y="1283" width="36" height="17" fill="none" stroke="#7c7" stroke-width="0.8"/>
<g font-size="5.5" fill="#5b5"><text x="563" y="1291">Türen</text><text x="563" y="1298">belüftet</text><text x="740" y="1291">Türen</text><text x="740" y="1298">belüftet</text></g>
<!-- rails & transformer -->
<g stroke="#555" stroke-width="0.8" fill="none">
<line x1="548" y1="1389" x2="548" y2="1707"/><line x1="553" y1="1389" x2="553" y2="1707"/><line x1="597" y1="1389" x2="597" y2="1707"/><line x1="601" y1="1389" x2="601" y2="1707"/>
<line x1="730" y1="1389" x2="730" y2="1707"/><line x1="734" y1="1389" x2="734" y2="1707"/><line x1="778" y1="1389" x2="778" y2="1707"/><line x1="783" y1="1389" x2="783" y2="1707"/>
<rect x="547" y="1539" width="54" height="98"/><path d="M547,1539 L601,1637 M601,1539 L547,1637"/>
<rect x="728" y="1539" width="55" height="98"/><path d="M728,1539 L783,1637 M783,1539 L728,1637"/>
</g>
<text transform="translate(572,1590) rotate(-90)" font-size="6" text-anchor="middle">Transformator</text>
<text transform="translate(754,1590) rotate(-90)" font-size="6" text-anchor="middle">Transformator</text>
<!-- cabinets 001 -->
<g stroke="#999" stroke-width="0.8" fill="none">
<rect x="317" y="1395" width="33" height="305"/>
<rect x="320" y="1398" width="27" height="36"/><rect x="320" y="1438" width="27" height="30"/><rect x="320" y="1472" width="27" height="40"/><rect x="320" y="1517" width="27" height="62"/><rect x="320" y="1582" width="27" height="5"/><rect x="320" y="1590" width="27" height="32"/><rect x="320" y="1625" width="27" height="34"/><rect x="320" y="1662" width="27" height="36"/>
</g>
<rect x="987" y="1397" width="58" height="46" fill="none" stroke="#3a3" stroke-width="1.2"/>
<path d="M990,1400 L992,1440 L1015,1440 Z" fill="#1a1"/>
<text x="998" y="1410" font-size="5">Abzug</text>
<g stroke="#3a3" stroke-width="1" fill="#fff">
<rect x="857" y="1552" width="35" height="25"/><rect x="857" y="1580" width="35" height="25"/><rect x="857" y="1608" width="35" height="25"/><rect x="857" y="1636" width="35" height="25"/><rect x="857" y="1664" width="35" height="23"/>
</g>
<g fill="#1a1"><path d="M860,1575 L890,1575 L890,1566 Z"/><path d="M860,1603 L890,1603 L890,1594 Z"/><path d="M860,1631 L890,1631 L890,1622 Z"/><path d="M860,1659 L890,1659 L890,1650 Z"/></g>
<rect x="997" y="1661" width="43" height="44" fill="#fff" stroke="#3a3" stroke-width="1.5"/><path d="M1000,1665 L1002,1703 L1030,1703 Z" fill="#1a1"/>
<path d="M604,1660 L606,1705 L650,1705 Z" fill="#1a1"/><path d="M785,1660 L787,1705 L835,1705 Z" fill="#1a1"/><path d="M311,1660 L313,1705 L330,1705 Z" fill="#1a1"/>
<!-- dashed diagonals bottom -->
<g stroke="#555" stroke-width="0.8" stroke-dasharray="8,5" fill="none">
<path d="M320,1395 L476,1705"/><path d="M490,1395 L652,1705"/><path d="M671,1395 L833,1705"/><path d="M852,1420 L1040,1705"/>
</g>
<line x1="1338" y1="1378" x2="1054" y2="1718" stroke="#555" stroke-width="0.8" stroke-dasharray="22,6,3,6"/>
<text transform="translate(1182,1559) rotate(-63)" font-size="10" font-weight="bold" font-style="italic" text-anchor="middle">"STZ-WN NOCH OFFEN"</text>
<line x1="140" y1="1672" x2="1160" y2="1672" stroke="#444" stroke-width="0.8" stroke-dasharray="18,5,3,5"/>
<line x1="1023" y1="1220" x2="1023" y2="1940" stroke="#444" stroke-width="0.8" stroke-dasharray="18,5,3,5"/>
<path d="M141,1665 L147,1654 L153,1665" fill="none" stroke="#333" stroke-width="0.8"/><path d="M1105,1665 L1111,1654 L1117,1665" fill="none" stroke="#333" stroke-width="0.8"/>
<g font-size="5.5"><text x="136" y="1675">STZL_02_Schnitt A</text><text x="1093" y="1675">STZL_02_Schnitt A</text><text x="1003" y="1229">STZL_02_Schnitt B</text><text x="1003" y="1938">STZL_02_Schnitt B</text></g>
<!-- room texts -->
<use href="#warn" x="347" y="1536"/><use href="#warn" x="522" y="1536"/><use href="#warn" x="704" y="1518"/><use href="#warn" x="877" y="1508"/>
<g font-size="7" fill="#222">
<text x="333" y="1560">001</text><text x="333" y="1569" font-weight="bold" font-size="8">NSP</text><text x="333" y="1576" font-size="5.5">16,80 m²</text><text x="333" y="1582" font-size="5.5">17,20 m</text><text x="333" y="1588" font-size="5.5">Schaltwartenboden</text><text x="333" y="1594" font-size="5.5">RH=4,28 m</text><text x="333" y="1613" font-size="5.5">Decke: Beton</text><text x="338" y="1637" font-size="6">+0,00  -1,60</text>
<text x="510" y="1560">002</text><text x="510" y="1569" font-weight="bold" font-size="8">Trafo 1</text><text x="510" y="1576" font-size="5.5">16,80 m²</text><text x="510" y="1582" font-size="5.5">17,20 m</text><text x="510" y="1588" font-size="5.5">Gitterrost</text><text x="510" y="1594" font-size="5.5">RH=4,28 m</text><text x="510" y="1613" font-size="5.5">Decke: Beton</text><text x="510" y="1620" font-size="6">+0,00  -1,00</text>
<text x="682" y="1560">003</text><text x="682" y="1569" font-weight="bold" font-size="8">Trafo 2</text><text x="682" y="1576" font-size="5.5">16,80 m²</text><text x="682" y="1582" font-size="5.5">17,20 m</text><text x="682" y="1588" font-size="5.5">Gitterrost</text><text x="682" y="1594" font-size="5.5">RH=4,28 m</text><text x="682" y="1613" font-size="5.5">Decke: Beton</text><text x="682" y="1620" font-size="6">+0,00  -1,00</text>
<text x="949" y="1494">004</text><text x="949" y="1503" font-weight="bold" font-size="8">MSP</text><text x="949" y="1510" font-size="5.5">17,93 m²</text><text x="949" y="1516" font-size="5.5">17,96 m</text><text x="949" y="1523" font-size="5.5">Beton versiegelt</text><text x="949" y="1529" font-size="5.5">RH=4,28 m</text><text x="949" y="1545" font-size="5.5">Decke: Beton</text><text x="954" y="1561" font-size="6">+0,00  -2,00</text>
<text x="323" y="1502" font-size="6.5">UK-NSHV-STZL</text>
</g>
<g fill="#000"><circle cx="345" cy="1643" r="3"/><circle cx="516" cy="1627" r="3"/><circle cx="691" cy="1627" r="3"/><circle cx="963" cy="1566" r="3"/></g>
<g fill="none" stroke="#444" stroke-width="0.7"><circle cx="364" cy="1643" r="3"/><circle cx="535" cy="1627" r="3"/><circle cx="710" cy="1627" r="3"/><circle cx="982" cy="1566" r="3"/></g>
<!-- green annotations -->
<g font-size="7.5" fill="#4ab84a">
<text x="309" y="1396" font-size="6">22x HSI 150 1x1 K2</text><text x="309" y="1405">Varia 200-260</text><text x="309" y="1415">1Reihe Mitte=RBOK +45cm</text><text x="309" y="1425">2Reihe Mitte=RBOK +66cm</text>
<text x="430" y="1398" font-size="9">UK= +4,08</text><text x="440" y="1407" font-size="9">E-WDB</text><text x="420" y="1420" font-size="6">UK=4,08</text><text x="450" y="1428" font-size="9">80x20</text><text x="450" y="1445" font-size="9">E-WDB</text>
<text x="612" y="1398" font-size="9">UK= +4,08</text><text x="620" y="1408" font-size="9">E-WDB</text><text x="620" y="1428" font-size="9">80x20</text><text x="620" y="1445" font-size="9">E-WDB</text><text x="620" y="1455" font-size="6">UK=-1,00</text>
<text x="794" y="1398" font-size="9">UK= +4,08</text><text x="800" y="1408" font-size="9">E-WDB</text><text x="798" y="1420" font-size="6">EG E 014</text><text x="798" y="1427" font-size="6">WD 20/20</text>
<text x="856" y="1396" font-size="6">4x HSI 150 1x1 K2</text><text x="856" y="1405">Varia 200-260</text><text x="856" y="1415">1Reihe Mitte=RBOK +45cm</text><text x="856" y="1425">2Reihe Mitte=RBOK +66cm</text>
<text x="616" y="1640" font-size="8">E-DDB</text><text x="616" y="1648" font-size="6">105 x 105</text><text x="797" y="1640" font-size="8">E-DDB</text><text x="797" y="1648" font-size="6">105 x 105</text>
<text x="440" y="1670" font-size="6">EG E 019</text><text x="440" y="1677" font-size="6">WD 15/15</text><text x="440" y="1688" font-size="8">E-WDB</text><text x="435" y="1700" font-size="9">UK= +0,22</text>
<text x="620" y="1688" font-size="8">E-WDB</text><text x="620" y="1700" font-size="9">UK= +0,22</text><text x="800" y="1688" font-size="8">E-WDB</text><text x="800" y="1700" font-size="9">UK= +0,22</text>
<text x="995" y="1647" font-size="8">E-DDB</text><text x="1040" y="1738" font-size="6">DG E 001</text><text x="1040" y="1745" font-size="6">BDB 80/80</text>
<text x="800" y="1740" font-size="6">EG E 016</text><text x="800" y="1747" font-size="6">WD 15/15</text><text x="800" y="1754" font-size="6">UK=-0,22</text>
<text x="340" y="1660" font-size="6">DG E 017</text><text x="340" y="1667" font-size="6">BDB 20/80</text>
<text x="897" y="1583" font-size="6">EG E 001</text><text x="897" y="1590" font-size="6">BDB 61/235</text>
</g>
<!-- grid bottom -->
<g stroke="#7b7bf0" stroke-width="1" fill="none">
<line x1="302" y1="1266" x2="302" y2="1867"/><line x1="484" y1="1266" x2="484" y2="1867"/><line x1="665" y1="1266" x2="665" y2="1867"/><line x1="846" y1="1266" x2="846" y2="1867"/><line x1="1049" y1="1266" x2="1049" y2="1867"/><line x1="1344" y1="1266" x2="1344" y2="1867"/>
<line x1="190" y1="1383" x2="1404" y2="1383"/><line x1="190" y1="1711" x2="1404" y2="1711"/>
</g>
<g stroke="#7b7bf0" stroke-width="1.3" fill="#fff">
<circle cx="302" cy="1244" r="22"/><circle cx="484" cy="1244" r="22"/><circle cx="665" cy="1244" r="22"/><circle cx="846" cy="1244" r="22"/><circle cx="1049" cy="1244" r="22"/><circle cx="1344" cy="1244" r="22"/>
<circle cx="302" cy="1890" r="22"/><circle cx="484" cy="1890" r="22"/><circle cx="665" cy="1890" r="22"/><circle cx="846" cy="1890" r="22"/><circle cx="1049" cy="1890" r="22"/><circle cx="1344" cy="1890" r="22"/>
<circle cx="168" cy="1384" r="22"/><circle cx="168" cy="1711" r="22"/><circle cx="1426" cy="1384" r="22"/><circle cx="1426" cy="1711" r="22"/>
</g>
<g font-size="17" fill="#4444dd" text-anchor="middle">
<text x="302" y="1250">A</text><text x="484" y="1250">B</text><text x="665" y="1250">C</text><text x="846" y="1250">D</text><text x="1049" y="1250">E</text><text x="1344" y="1250">F</text>
<text x="302" y="1896">A</text><text x="484" y="1896">B</text><text x="665" y="1896">C</text><text x="846" y="1896">D</text><text x="1049" y="1896">E</text><text x="1344" y="1896">F</text>
<text x="168" y="1390">2</text><text x="168" y="1717">1</text><text x="1426" y="1390">2</text><text x="1426" y="1717">1</text>
</g>
<g stroke="#888" stroke-width="0.7" fill="none"><circle cx="484" cy="1725" r="5"/><circle cx="886" cy="1725" r="5"/></g>
<!-- dims bottom -->
<g stroke="#555" stroke-width="0.7">
<line x1="296" y1="1305" x2="1055" y2="1305"/><line x1="296" y1="1333" x2="1055" y2="1333"/>
<line x1="296" y1="1795" x2="1055" y2="1795"/><line x1="296" y1="1816" x2="1055" y2="1816"/><line x1="296" y1="1834" x2="1055" y2="1834"/>
<line x1="227" y1="1378" x2="227" y2="1718"/><line x1="242" y1="1378" x2="242" y2="1718"/><line x1="257" y1="1378" x2="257" y2="1718"/>
</g>
<g font-size="6.5" fill="#333" text-anchor="middle">
<text x="302" y="1315">20</text><text x="393" y="1315">300</text><text x="484" y="1315">20</text><text x="574" y="1315">300</text><text x="665" y="1315">20</text><text x="755" y="1315">300</text><text x="846" y="1315">20</text><text x="946" y="1315">358</text><text x="676" y="1301">1338</text>
<text x="325" y="1330">100</text><text x="380" y="1330">140</text><text x="460" y="1330">140</text><text x="592" y="1330">220</text><text x="665" y="1330">100</text><text x="743" y="1330">220</text><text x="862" y="1330">159</text><text x="933" y="1330">140</text><text x="1018" y="1330">114</text>
<text x="302" y="1791">20</text><text x="393" y="1791">300</text><text x="484" y="1791">20</text><text x="574" y="1791">300</text><text x="665" y="1791">20</text><text x="755" y="1791">300</text><text x="846" y="1791">20</text><text x="918" y="1791">238</text><text x="992" y="1791">20</text><text x="1020" y="1791">80</text><text x="676" y="1812">1338</text>
</g>
<g font-size="10" fill="#222" text-anchor="middle"><text x="300" y="1831">10</text><text x="393" y="1831">320</text><text x="574" y="1831">320</text><text x="755" y="1831">320</text><text x="947" y="1831">358</text></g>
<text transform="translate(222,1547) rotate(-90)" font-size="10" text-anchor="middle">580</text>
<text transform="translate(240,1547) rotate(-90)" font-size="6.5" text-anchor="middle">600</text>
<text transform="translate(260,1547) rotate(-90)" font-size="6.5" text-anchor="middle">560</text>
</svg>
</body></html>
